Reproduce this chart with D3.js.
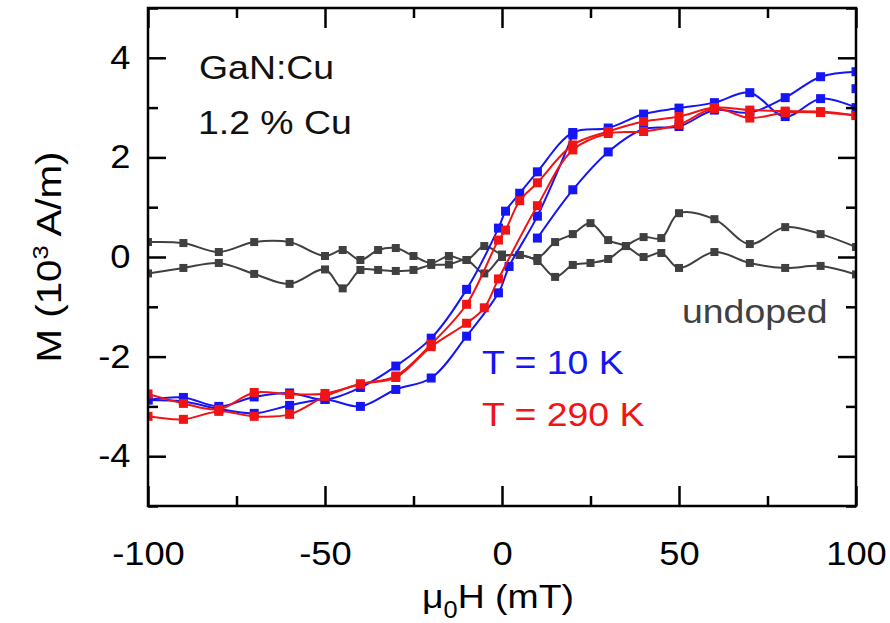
<!DOCTYPE html>
<html>
<head>
<meta charset="utf-8">
<script src="https://cdn.jsdelivr.net/npm/d3@7"></script>
<style>
  body { margin: 0; background: #fff; }
  text { font-family: Arial, "Liberation Sans", sans-serif; }
</style>
</head>
<body>
<script>
'use strict';

// field (mT) and magnetisation (10^3 A/m)

// T = 10 K
let blueDownH = [100, 90, 80, 70, 60, 50, 40, 30, 20, 10, 5, 1, -1, -10, -20, -30, -40, -50, -60, -70, -80, -90, -100];
let blueDownM = [3.0, 3.18, 2.82, 3.3, 3.1, 2.99, 2.87, 2.59, 2.5, 1.71, 1.28, 0.92, 0.58, -0.65, -1.63, -2.19, -2.62, -2.86, -2.73, -2.81, -3.0, -2.82, -2.87];
let blueUpH = [-100, -90, -80, -70, -60, -50, -40, -30, -20, -10, -1, 2, 10, 20];
let blueUpM = [-2.87, -2.9, -3.05, -3.14, -2.98, -2.86, -3.0, -2.66, -2.43, -1.59, -0.72, -0.19, 0.82, 2.45];
let blueStartH = [10, 20, 30, 40, 50, 60, 70, 80, 90, 100];
let blueStartM = [0.38, 1.35, 2.11, 2.57, 2.62, 2.95, 2.9, 3.2, 3.62, 3.72];
let blueExtraH = [100];
let blueExtraM = [3.38];

// T = 290 K
let redDownH = [100, 90, 80, 70, 60, 50, 40, 30, 20, 10, 5, 1, -1, -10, -20, -30, -40, -50, -60, -70, -80, -90, -100];
let redDownM = [2.84, 2.92, 2.93, 2.95, 3.0, 2.82, 2.72, 2.52, 2.25, 1.49, 1.13, 0.54, 0.34, -0.95, -1.75, -2.39, -2.55, -2.74, -2.76, -2.72, -3.06, -2.94, -2.75];
let redUpH = [-100, -90, -80, -70, -60, -50, -40, -30, -20, -10, -5, -1, 10, 20, 30, 40, 50, 60, 70, 80, 90, 100];
let redUpM = [-3.2, -3.26, -3.1, -3.2, -3.16, -2.8, -2.55, -2.42, -1.8, -1.33, -1.02, -0.44, 1.03, 2.15, 2.48, 2.52, 2.66, 2.98, 2.79, 2.9, 2.9, 2.84];

// undoped reference
let greyH = [-100, -90, -80, -70, -60, -50, -45, -40, -35, -30, -25, -20, -15, -10, -5, 0, 5, 10, 15, 20, 25, 30, 35, 40, 45, 50, 60, 70, 80, 90, 100];
let greyAM = [0.30, 0.28, 0.10, 0.30, 0.30, 0.02, 0.14, -0.06, 0.14, 0.18, 0.02, -0.12, 0.02, -0.06, 0.22, 0.05, 0.04, -0.02, 0.30, 0.46, 0.68, 0.34, 0.22, 0.0, 0.08, -0.22, 0.10, -0.12, -0.22, -0.18, -0.35];
let greyBM = [-0.33, -0.22, -0.12, -0.34, -0.54, -0.25, -0.63, -0.26, -0.26, -0.28, -0.26, -0.16, -0.15, -0.06, -0.33, 0.0, 0.04, -0.08, -0.40, -0.16, -0.12, -0.04, 0.22, 0.40, 0.38, 0.88, 0.76, 0.26, 0.60, 0.46, 0.20];

let xMajor = [-100, -50, 0, 50, 100];
let xMinor = [-75, -25, 25, 75];
let yMajor = [-4, -2, 0, 2, 4];
let yMinor = [-5, -3, -1, 1, 3, 5];

let margin = {top: 8, right: 34, bottom: 117, left: 148},
  width = 890 - margin.left - margin.right,
  height = 623 - margin.top - margin.bottom;

// the original lettering is a little wider than Arial
let stretch = 1.1;

let svg = d3.select("body").append("svg")
  .attr("width", 890)
  .attr("height", 623);

let g = svg.append("g")
  .attr("transform", `translate(${margin.left},${margin.top})`);

let x = d3.scaleLinear().domain([-100, 100]).range([0, width]);
let y = d3.scaleLinear().domain([-5, 5]).range([height, 0]);

g.append("clipPath").attr("id", "clip")
  .append("rect").attr("width", width).attr("height", height);

let plot = g.append("g").attr("clip-path", "url(#clip)");

let line = d3.line()
  .x(d => x(d[0]))
  .y(d => y(d[1]))
  .curve(d3.curveCatmullRom.alpha(0.5));

function drawSeries(hs, ms, color, size, withLine) {
  let pts = hs.map((h, i) => [h, ms[i]]);
  if (withLine) {
    plot.append("path").datum(pts)
      .attr("fill", "none")
      .attr("stroke", color)
      .attr("stroke-width", 2)
      .attr("d", line);
  }
  plot.append("g").selectAll("rect")
    .data(pts)
    .enter()
    .append("rect")
    .attr("x", d => x(d[0]) - size / 2)
    .attr("y", d => y(d[1]) - size / 2)
    .attr("width", size)
    .attr("height", size)
    .attr("fill", color);
}

let grey = "#404040", blue = "#1515f5", red = "#f01414";

drawSeries(greyH, greyAM, grey, 8, true);
drawSeries(greyH, greyBM, grey, 8, true);
drawSeries(blueDownH, blueDownM, blue, 9, true);
drawSeries(blueUpH, blueUpM, blue, 9, true);
drawSeries(blueStartH, blueStartM, blue, 9, true);
drawSeries(blueExtraH, blueExtraM, blue, 9, false);
drawSeries(redDownH, redDownM, red, 9, true);
drawSeries(redUpH, redUpM, red, 9, true);

// axes, ticks pointing inward
function styleAxis(sel) {
  sel.select(".domain").remove();
  sel.selectAll("line").attr("stroke", "#000").attr("stroke-width", 2.5);
  sel.selectAll("text").attr("fill", "#000").style("font-size", "33px")
    .attr("transform", `scale(${stretch},1)`);
}

g.append("g").attr("transform", `translate(0,${height})`)
  .call(d3.axisBottom(x).tickValues(xMajor).tickSize(-20).tickPadding(36).tickFormat(d => String(d)))
  .call(styleAxis);
g.append("g").attr("transform", `translate(0,${height})`)
  .call(d3.axisBottom(x).tickValues(xMinor).tickSize(-10).tickFormat(""))
  .call(styleAxis);
g.append("g")
  .call(d3.axisTop(x).tickValues(xMajor).tickSize(-20).tickFormat(""))
  .call(styleAxis);
g.append("g")
  .call(d3.axisTop(x).tickValues(xMinor).tickSize(-10).tickFormat(""))
  .call(styleAxis);

g.append("g")
  .call(d3.axisLeft(y).tickValues(yMajor).tickSize(-18).tickPadding(16).tickFormat(d => String(d)))
  .call(styleAxis);
g.append("g")
  .call(d3.axisLeft(y).tickValues(yMinor).tickSize(-10).tickFormat(""))
  .call(styleAxis);
g.append("g").attr("transform", `translate(${width},0)`)
  .call(d3.axisRight(y).tickValues(yMajor).tickSize(-18).tickFormat(""))
  .call(styleAxis);
g.append("g").attr("transform", `translate(${width},0)`)
  .call(d3.axisRight(y).tickValues(yMinor).tickSize(-10).tickFormat(""))
  .call(styleAxis);

g.append("rect")
  .attr("width", width)
  .attr("height", height)
  .attr("fill", "none")
  .attr("stroke", "#000")
  .attr("stroke-width", 2.5);

// axis titles
let xTitle = svg.append("text")
  .attr("transform", `translate(498,608) scale(${stretch},1)`)
  .attr("text-anchor", "middle")
  .style("font-size", "34px");
xTitle.append("tspan").text("\u03bc");
xTitle.append("tspan").attr("dy", 10).style("font-size", "23px").text("0");
xTitle.append("tspan").attr("dy", -10).text("H (mT)");

let yTitle = svg.append("text")
  .attr("transform", `translate(61,257) rotate(-90) scale(${stretch + 0.05},1)`)
  .attr("text-anchor", "middle")
  .style("font-size", "35px");
yTitle.append("tspan").text("M (10");
yTitle.append("tspan").attr("dy", -13).style("font-size", "22px").text("3");
yTitle.append("tspan").attr("dy", 13).text(" A/m)");

// annotations
let notes = [
  {t: "GaN:Cu", x: 199, y: 79, c: "#111"},
  {t: "1.2 % Cu", x: 198, y: 134, c: "#111"},
  {t: "undoped", x: 682, y: 323, c: grey},
  {t: "T = 10 K", x: 482, y: 374, c: blue},
  {t: "T = 290 K", x: 482, y: 426, c: red}
];
svg.selectAll("text.note")
  .data(notes)
  .enter()
  .append("text")
  .attr("class", "note")
  .attr("transform", d => `translate(${d.x},${d.y}) scale(${stretch},1)`)
  .attr("fill", d => d.c)
  .style("font-size", "34px")
  .text(d => d.t);
</script>
</body>
</html>
